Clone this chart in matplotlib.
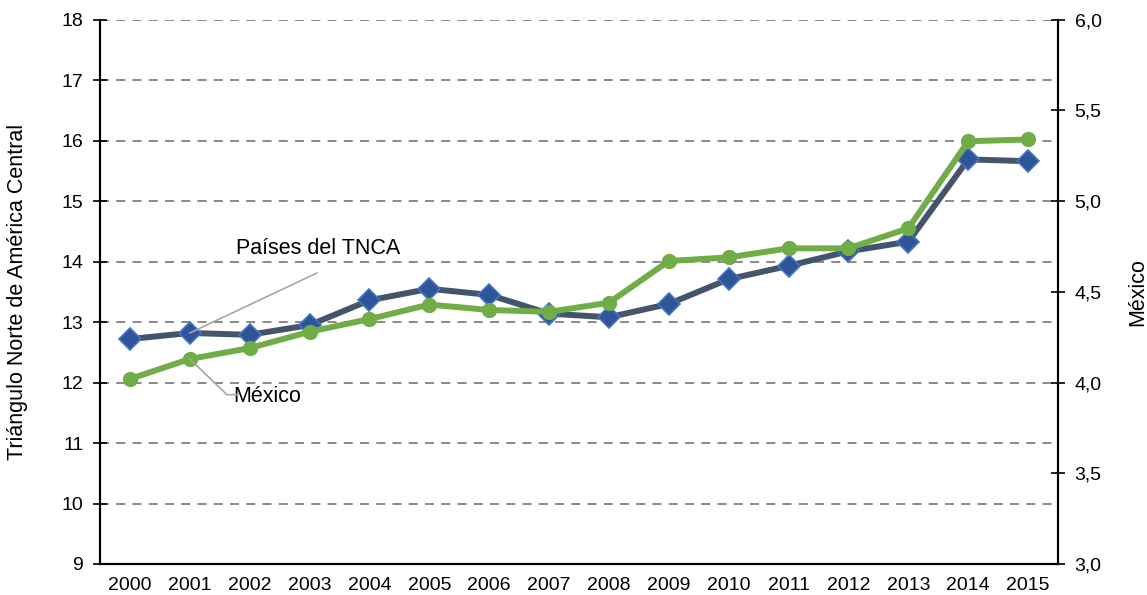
import matplotlib
matplotlib.use("Agg")
import matplotlib.pyplot as plt

years = [str(y) for y in range(2000, 2016)]
tnca = [12.72, 12.82, 12.79, 12.95, 13.36, 13.55, 13.45, 13.14, 13.08, 13.30,
        13.71, 13.93, 14.17, 14.33, 15.69, 15.66]
mexico = [4.02, 4.13, 4.19, 4.28, 4.35, 4.43, 4.40, 4.39, 4.44, 4.67,
          4.69, 4.74, 4.74, 4.85, 5.33, 5.34]
left_ticks = list(range(9, 19))
right_ticks = [3.0, 3.5, 4.0, 4.5, 5.0, 5.5, 6.0]
right_labels = ["3,0", "3,5", "4,0", "4,5", "5,0", "5,5", "6,0"]

plt.rcParams['font.family'] = ['Liberation Sans', 'DejaVu Sans']

fig = plt.figure(figsize=(11.47, 5.95), dpi=100)
ax = fig.add_axes([100/1147, 1-564/595, 958/1147, (564-19.7)/595])
ax2 = ax.twinx()

x = list(range(len(years)))

ax.set_ylim(9, 18)
ax.set_xlim(-0.5, 15.5)
ax.set_yticks(left_ticks)
ax.set_yticklabels([str(t) for t in left_ticks], fontsize=14)
ax.set_xticks(x)
ax.set_xticklabels(years, fontsize=14)
ax.tick_params(axis='x', length=0, pad=9)
ax.tick_params(axis='y', direction='inout', length=10, width=1.2, pad=7)
for yv in left_ticks[1:]:
    ax.axhline(yv, color='#808080', lw=1.3, ls=(0, (5, 4)), zorder=0)

ax.plot(x, tnca, color='#44546A', lw=4.3, marker='D', ms=11.5,
        markerfacecolor='#2E5597', markeredgecolor='#4472C4', markeredgewidth=1.2, zorder=3)

ax2.set_ylim(3.0, 6.0)
ax2.set_yticks(right_ticks)
ax2.set_yticklabels(right_labels, fontsize=14)
ax2.tick_params(axis='y', direction='inout', length=10, width=1.2, pad=7)
ax2.plot(x, mexico, color='#70AD47', lw=4.3, marker='o', ms=10,
         markerfacecolor='#70AD47', markeredgecolor='#70AD47', zorder=3)

for a in (ax, ax2):
    a.spines['top'].set_visible(False)
    for s in ('left', 'right', 'bottom'):
        a.spines[s].set_linewidth(1.5)
        a.spines[s].set_color('black')

ax.set_ylabel("Triángulo Norte de América Central", fontsize=15.5)
ax.yaxis.set_label_coords(-0.0755, 0.5)
ax2.set_ylabel("México", fontsize=15.5)
ax2.yaxis.set_label_coords(1.072, 0.5)

# leader lines and labels
ax2.plot([3.12, 1.0], [13.81, 12.82], color='#A6A6A6', lw=1.2, transform=ax.transData, zorder=5)
ax2.text(3.14, 14.21, "Países del TNCA", fontsize=15.5, ha='center', va='center',
         transform=ax.transData)
y_m2001 = ax.transData.inverted().transform(ax2.transData.transform((1, mexico[1])))[1]
ax2.plot([1.0, 1.62, 1.80], [y_m2001, 11.80, 11.80],
         color='#A6A6A6', lw=1.2, transform=ax.transData, zorder=5)
ax2.text(2.30, 11.77, "México", fontsize=15.5, ha='center', va='center',
         transform=ax.transData)

fig.savefig("out.png", dpi=100)
